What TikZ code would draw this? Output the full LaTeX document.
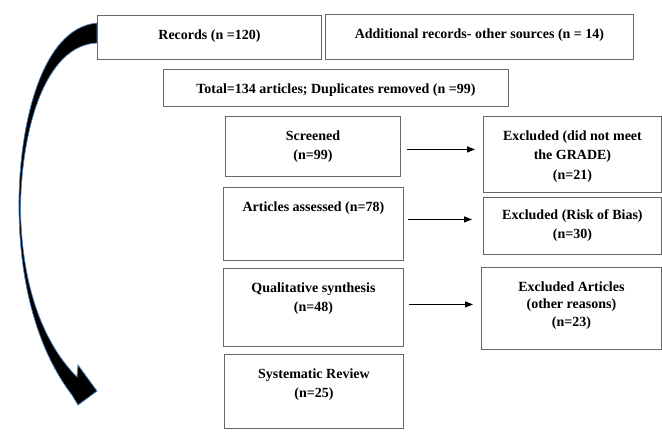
\documentclass[tikz,border=0pt]{standalone}
\usepackage{fontspec}
\setmainfont{Liberation Serif}
\usetikzlibrary{arrows.meta}
\definecolor{edgeblue}{RGB}{79,129,189}

\begin{document}
\begin{tikzpicture}[x=1pt, y=-1pt, thick,
    box/.style = {draw=black!60, line width=0.9pt, rectangle, anchor=north west, inner sep=0pt},
    txt/.style = {anchor=north, yshift=-14pt, inner sep=0pt, align=center, font=\fontsize{14}{19.5}\selectfont\bfseries},
    arr/.style = {-{Triangle[length=8pt,width=6pt]}, line width=1.3pt}]

    \useasboundingbox (0,0) rectangle (662,432);

    % curved arrow on the left
    \coordinate (tip) at (97,391);
    \filldraw[fill=black, draw=edgeblue, line width=0.7pt]
        (97,23) .. controls (40,28) and (18,130) .. (19,210)
        .. controls (20,300) and (45,360) .. (72,395)
        -- (78,405) -- (tip) -- (78,365) -- (77,377)
        .. controls (45,345) and (22,290) .. (20.5,210)
        .. controls (21,130) and (45,45) .. (97,43) -- cycle;

    \node[box, minimum width=224, minimum height=44, label={[txt]north:Records (n =120)}] (rec) at (97,15) {};
    \node[box, minimum width=308, minimum height=45, label={[txt]north:Additional records- other sources (n = 14)}] (add) at (325,14) {};
    \node[box, minimum width=345, minimum height=37, label={[txt]north:Total=134 articles; Duplicates removed (n =99)}] (tot) at (163,69) {};
    \node[box, minimum width=175, minimum height=60, label={[txt]north:Screened\\(n=99)}] (scr) at (225,116) {};
    \node[box, minimum width=178, minimum height=76, label={[txt]north:Excluded (did not meet\\the GRADE)\\(n=21)}] (ex1) at (483,116) {};
    \node[box, minimum width=180, minimum height=73, label={[txt]north:Articles assessed (n=78)}] (ass) at (223,187) {};
    \node[box, minimum width=178, minimum height=57, label={[txt, yshift=2pt]north:Excluded (Risk of Bias)\\(n=30)}] (ex2) at (483,197) {};
    \node[box, minimum width=180, minimum height=78, label={[txt]north:Qualitative synthesis\\(n=48)}] (qual) at (223,268) {};
    \node[box, minimum width=180, minimum height=82, label={[txt, font=\fontsize{14}{17.5}\selectfont\bfseries]north:Excluded Articles\\(other reasons)\\(n=23)}] (ex3) at (481,267) {};
    \node[box, minimum width=179, minimum height=74, label={[txt]north:Systematic Review\\(n=25)}] (sys) at (224,354) {};

    \draw[arr, shorten <=6pt, shorten >=8pt] ([yshift=-3pt]scr.east) -- ([yshift=-3pt]scr.east -| ex1.west);
    \draw[arr, shorten <=4pt, shorten >=11pt] ([yshift=4.5pt]ass.east) -- ([yshift=4.5pt]ass.east -| ex2.west);
    \draw[arr, shorten <=5pt, shorten >=8pt] ([yshift=3pt]qual.east) -- ([yshift=3pt]qual.east -| ex3.west);

\end{tikzpicture}
\end{document}
